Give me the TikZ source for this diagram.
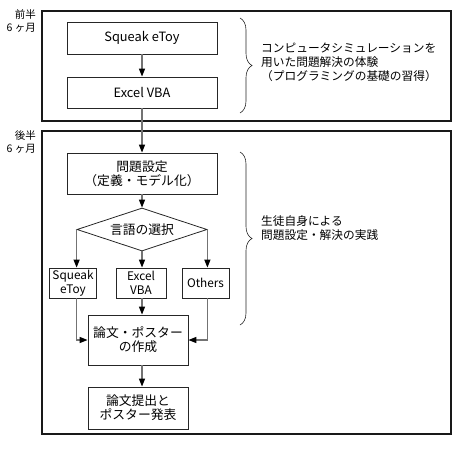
\documentclass[tikz,border=0pt]{standalone}
\usepackage{fontspec}
\setmainfont{Noto Sans CJK JP}
\usetikzlibrary{arrows.meta,shapes.geometric,decorations.pathreplacing}

\begin{document}
\begin{tikzpicture}[x=1pt, y=-1pt,
  box/.style={draw=black!85, line width=0.8pt, inner sep=1pt, align=center, font=\fontsize{12.8}{14}\selectfont},
  small/.style={box, minimum height=30, font=\fontsize{11.8}{13.5}\selectfont},
  frame/.style={draw=black!90, line width=1.7pt},
  arr/.style={draw=black!55, line width=1.3pt, -{Triangle[width=6pt,length=8pt,black]}},
  brace/.style={draw=black!85, line width=0.6pt, decorate, decoration={brace, amplitude=12pt}},
  note/.style={anchor=west, align=left, inner sep=0pt, font=\fontsize{11.7}{14}\selectfont},
  side/.style={anchor=north east, align=right, inner sep=0pt, font=\fontsize{10.5}{13}\selectfont}]
\useasboundingbox (0,0) rectangle (463,453);

% === first half ===
\draw[frame] (42,11) rectangle (451,121);
\node[side] (h1) at (36,9) {前半\\6 ヶ月};
\node[box, minimum width=150, minimum height=32] (sq1) at (142,38) {Squeak eToy};
\node[box, minimum width=150, minimum height=31] (xl1) at (142,92.5) {Excel VBA};
\draw[brace] (240,18) -- (240,113);
\node[note] (t1) at (261,62) {コンピュータシミュレーションを\\用いた問題解決の体験\\（プログラミングの基礎の習得）};

% === second half ===
\draw[frame] (42,131) rectangle (451,434);
\node[side] (h2) at (36,130) {後半\\6 ヶ月};
\node[box, minimum width=150, minimum height=41] (prob) at (142,173.5) {問題設定\\（定義・モデル化）};
\node[box, diamond, aspect=3, inner sep=0pt, minimum width=130, minimum height=43] (lang) at (142,229.5) {言語の選択};
\node[small, minimum width=47] (sq2) at (73,283) {Squeak\\eToy};
\node[small, minimum width=50] (xl2) at (141,283) {Excel\\VBA};
\node[small, minimum width=47] (ot2) at (205.5,283) {Others};
\node[box, minimum width=100, minimum height=50] (mk) at (138,340) {論文・ポスター\\の作成};
\node[box, minimum width=100, minimum height=42] (pub) at (138,408) {論文提出と\\ポスター発表};
\draw[brace] (240,152) -- (240,325);
\node[note] (t2) at (261,228) {生徒自身による\\問題設定・解決の実践};

% arrows
\draw[arr] (sq1) -- (xl1);
\draw[arr] (xl1) -- (prob);
\draw[arr] (prob) -- (lang);
\draw[arr] (lang.west) -- (lang.west |- sq2.north);
\draw[arr] (lang.south) -- (lang.south |- xl2.north);
\draw[arr] (lang.east) -- (lang.east |- ot2.north);
\draw[arr] (sq2.south -| lang.west) -- (lang.west |- mk.west) -- (mk.west);
\draw[arr] (xl2.south -| lang.south) -- (lang.south |- mk.north);
\draw[arr] (ot2.south -| lang.east) -- (lang.east |- mk.east) -- (mk.east);
\draw[arr] (mk.south -| lang.south) -- (lang.south |- pub.north);

\end{tikzpicture}
\end{document}
